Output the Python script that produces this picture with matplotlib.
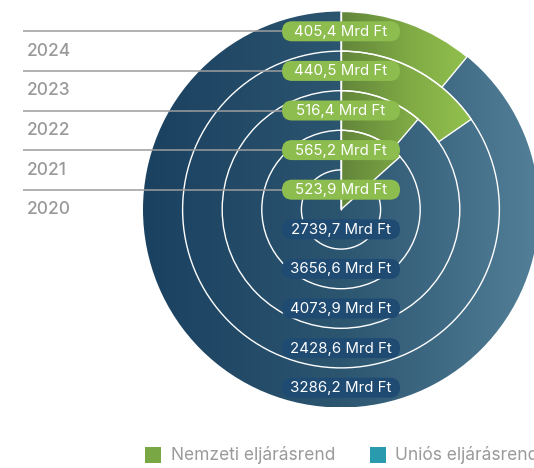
import numpy as np
import matplotlib
matplotlib.use("Agg")
import matplotlib.pyplot as plt
from matplotlib.patches import Wedge, Circle, FancyBboxPatch, Rectangle
from matplotlib.colors import LinearSegmentedColormap

plt.rcParams['font.family'] = ['Inter', 'DejaVu Sans']

# ---- data ----
years = ["2024", "2023", "2022", "2021", "2020"]
national = [405.4, 440.5, 516.4, 565.2, 523.9]      # Nemzeti eljárásrend (Mrd Ft)
eu = [3286.2, 2428.6, 4073.9, 3656.6, 2739.7]        # Uniós eljárásrend (Mrd Ft)
legend_labels = ["Nemzeti eljárásrend", "Uniós eljárásrend"]

def fmt(v):
    return f"{v:.1f}".replace(".", ",") + " Mrd Ft"

# ---- layout (pixel coordinates) ----
W, H = 534, 468
fig = plt.figure(figsize=(W / 100, H / 100), dpi=100)
ax = fig.add_axes([0, 0, 1, 1])
ax.set_xlim(0, W)
ax.set_ylim(H, 0)
ax.set_aspect('equal')
ax.axis('off')

cx, cy = 341, 209.5
R = 198
n = len(years)
ring_w = R / n
edges = [R - i * ring_w for i in range(n + 1)]   # outer radii per ring

# blue gradient disc
blue_cmap = LinearSegmentedColormap.from_list("b", ["#1a4160", "#2c5570", "#537f98"])
grad = np.linspace(0, 1, 256).reshape(1, -1)
disc = Circle((cx, cy), R, facecolor='none', edgecolor='none')
ax.add_patch(disc)
im = ax.imshow(grad, cmap=blue_cmap, extent=(cx - R, cx + R, cy + R, cy - R),
               aspect='auto', zorder=1, interpolation='bilinear')
im.set_clip_path(disc)

# white ring separators
for r in edges[1:-1]:
    ax.add_patch(Circle((cx, cy), r, facecolor='none', edgecolor='white', lw=1.0, zorder=2))

# green wedges
green_cmap = LinearSegmentedColormap.from_list("g", ["#62853a", "#80ab45", "#95c44f"])
shares = [nv / (nv + ev) for nv, ev in zip(national, eu)]
for i in range(n - 1):
    ang = shares[i] * 360
    r_out = edges[i]
    width = ring_w if i < n - 2 else None   # innermost green sector reaches the centre
    w = Wedge((cx, cy), r_out, -90, -90 + ang, width=width,
              facecolor='none', edgecolor='none')
    ax.add_patch(w)
    gi = ax.imshow(grad, cmap=green_cmap, extent=(cx, cx + 140, cy + R, cy - R),
                   aspect='auto', zorder=3, interpolation='bilinear')
    gi.set_clip_path(w)
    ax.add_patch(Wedge((cx, cy), r_out, -90, -90 + ang, width=width,
                       facecolor='none', edgecolor='white', lw=1.0, zorder=4))

# vertical white line
ax.plot([cx, cx], [cy - R, cy], color='white', lw=1.0, zorder=5, solid_capstyle='butt')

# labels
pill_w, pill_h = 118, 20
mids = [R - (i + 0.5) * ring_w for i in range(n)]
for i in range(n):
    yt = cy - mids[i]
    yb = cy + mids[i]
    # gray guide line + year
    ax.plot([23, cx - pill_w / 2], [yt, yt], color='#9d9d9d', lw=1.1, zorder=6,
            solid_capstyle='butt')
    ax.text(27, yt + 20, years[i], color='#999999', fontsize=12.5, fontweight='medium',
            ha='left', va='center', zorder=6)
    # green pill
    ax.add_patch(FancyBboxPatch((cx - pill_w / 2, yt - pill_h / 2), pill_w, pill_h,
                                boxstyle="round,pad=0,rounding_size=10",
                                facecolor='#8dbd4e', edgecolor='none', zorder=7))
    ax.text(cx, yt + 0.5, fmt(national[i]), color='white', fontsize=10.8,
            ha='center', va='center', zorder=8)
    # blue pill
    ax.add_patch(FancyBboxPatch((cx - pill_w / 2, yb - pill_h / 2), pill_w, pill_h,
                                boxstyle="round,pad=0,rounding_size=10",
                                facecolor='#1f4b73', edgecolor='none', zorder=7))
    ax.text(cx, yb + 0.5, fmt(eu[i]), color='white', fontsize=10.8,
            ha='center', va='center', zorder=8)

# legend
ax.add_patch(Rectangle((145, 447), 16, 16, facecolor='#78a743', edgecolor='none'))
ax.text(171, 455.5, legend_labels[0], color='#9a9a9a', fontsize=12.5, ha='left', va='center')
ax.add_patch(Rectangle((370, 447), 16, 16, facecolor='#2a9aae', edgecolor='none'))
ax.text(395, 455.5, legend_labels[1], color='#9a9a9a', fontsize=12.5, ha='left', va='center')

fig.savefig("out.png", dpi=100)
